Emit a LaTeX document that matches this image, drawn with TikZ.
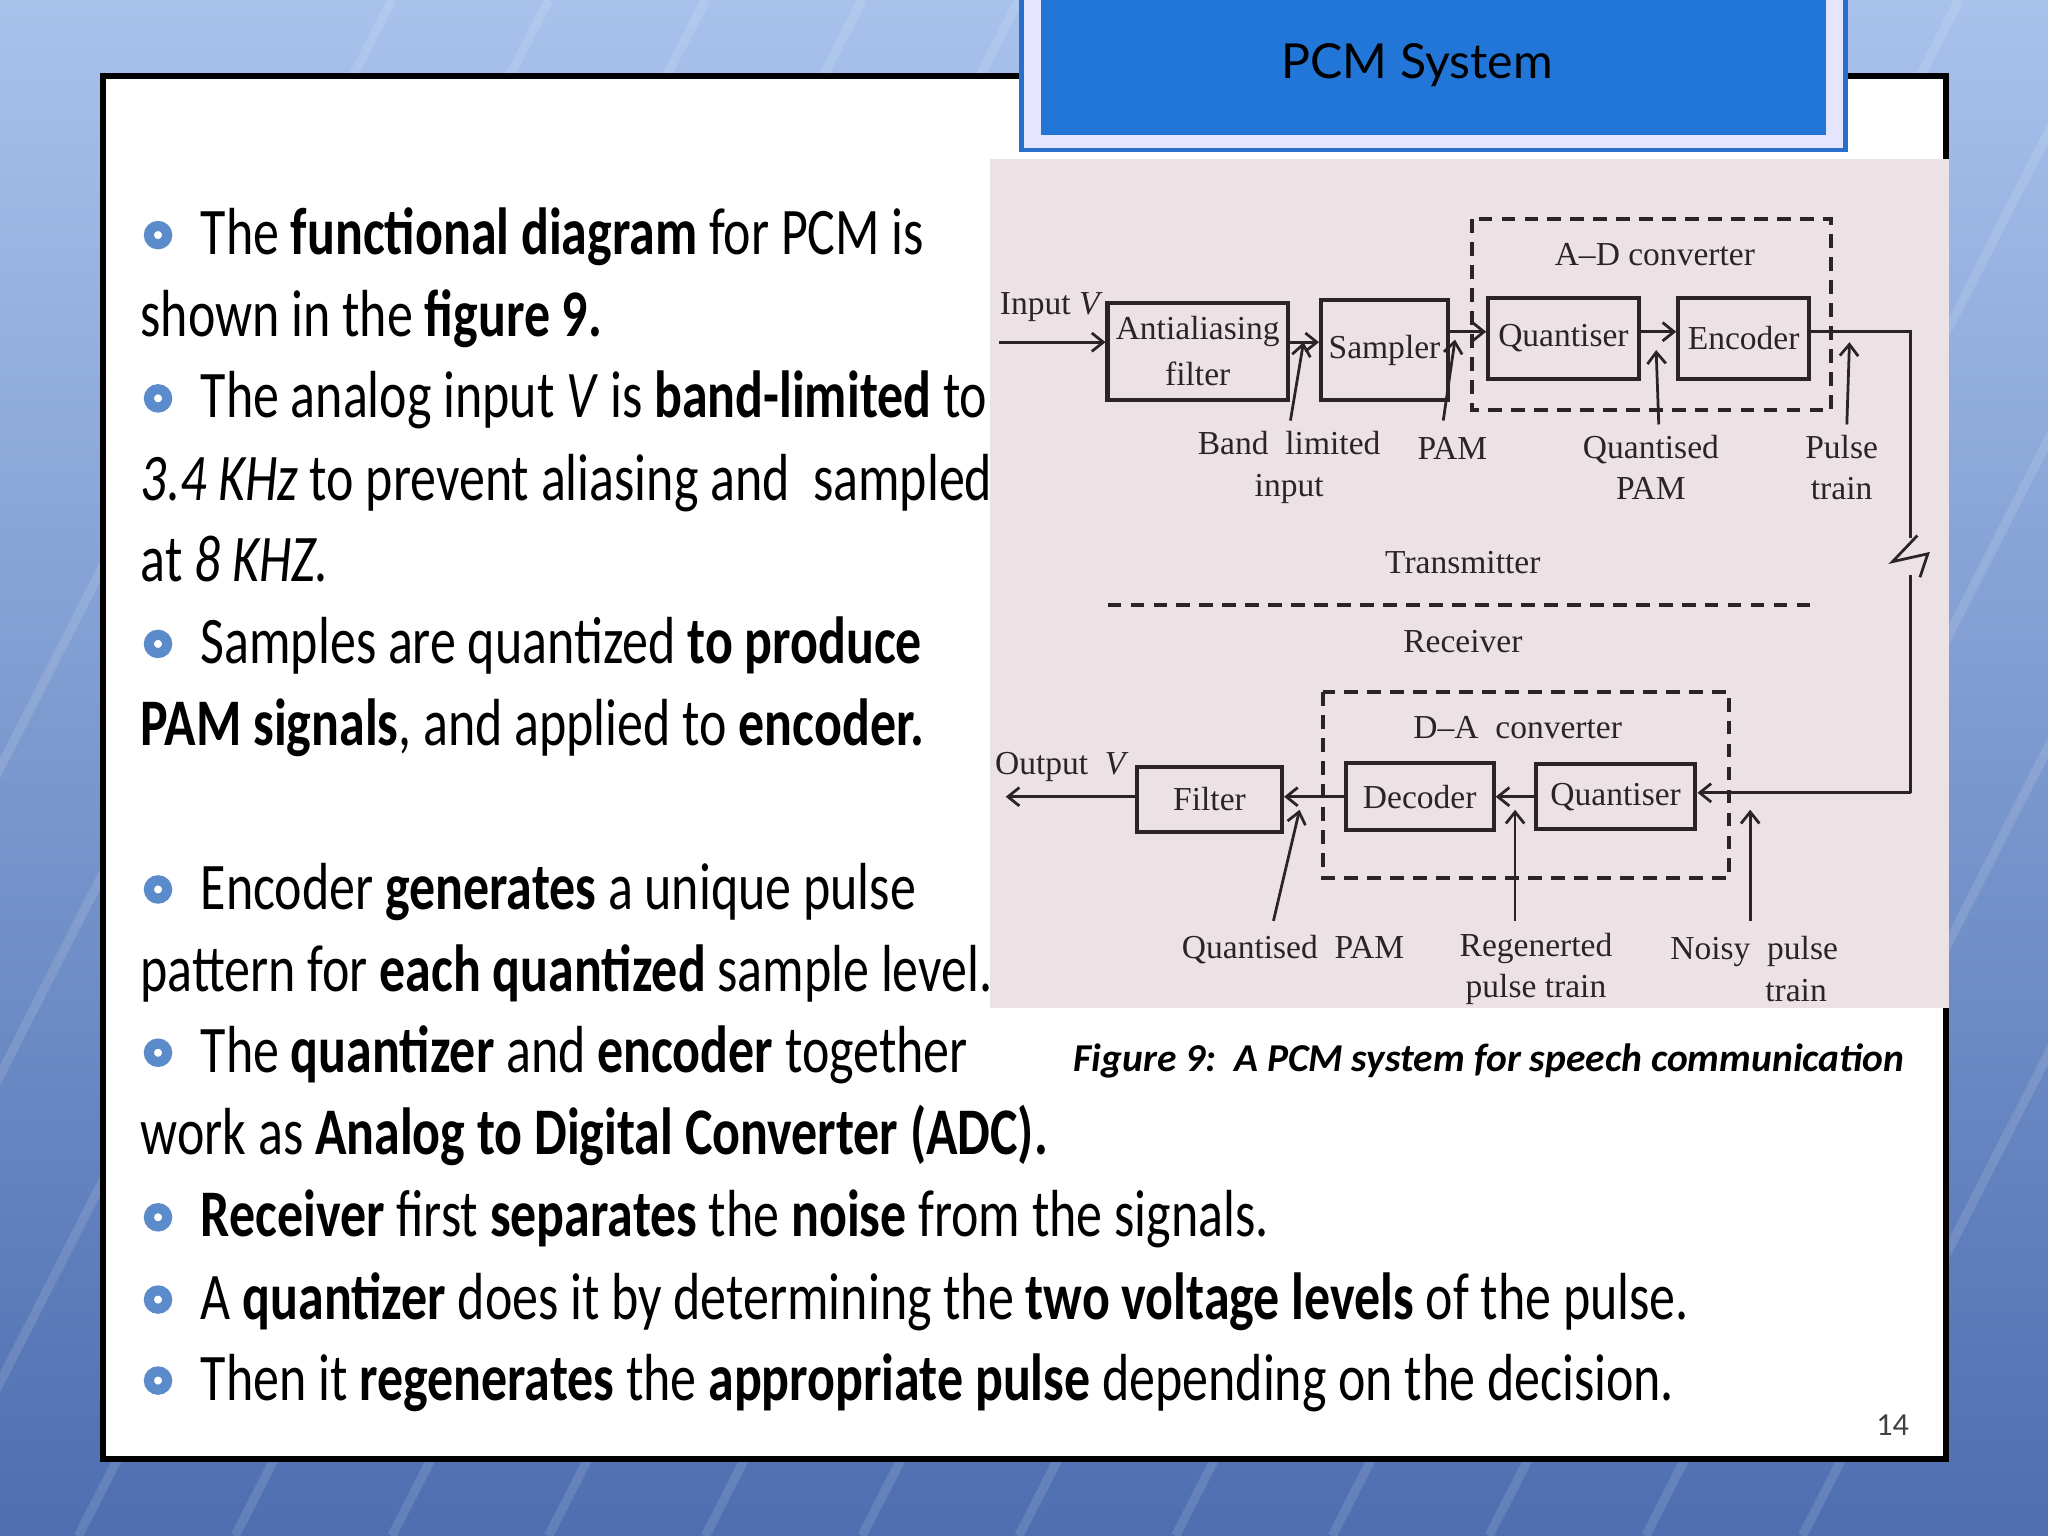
\documentclass[tikz,border=0pt]{standalone}
\usepackage{fontspec}
\usetikzlibrary{arrows.meta}
\setmainfont{Liberation Serif}
\newfontfamily\bodyf[FakeStretch=0.78]{Carlito}
\newfontfamily\capf{Carlito}
\newfontfamily\titlef{Lato}
\definecolor{bul}{HTML}{5B8BCB}
\definecolor{pinkbg}{HTML}{ECE2E5}
\definecolor{ink}{HTML}{2A2426}
\definecolor{bgtop}{HTML}{A8C2EC}
\definecolor{bgbot}{HTML}{4E6EB0}
\definecolor{tborder}{HTML}{286ECB}
\definecolor{tfill}{HTML}{2176D8}
\tikzset{
  blk/.style={draw=ink, line width=0.9pt, inner sep=0pt},
  dtxt/.style={font=\fontsize{7.3}{8}\selectfont, text=ink, inner sep=0pt},
  conn/.style={draw=ink, line width=0.6pt},
  arr/.style={conn, -{Straight Barb[length=2.5pt,width=4pt]}},
  dashline/.style={draw=ink, line width=0.9pt, dash pattern=on 3pt off 2pt},
  btxt/.style={font=\bodyf\fontsize{14.5}{16}\selectfont, anchor=base west, inner sep=0pt, text=black},
  bullet/.style={draw=bul, line width=2.2pt, circle, minimum size=0.14cm, inner sep=0pt}
}
\begin{document}
\begin{tikzpicture}[x=0.01cm,y=-0.01cm]
\useasboundingbox (0,0) rectangle (1568,1176);
\shade[top color=bgtop, bottom color=bgbot] (0,0) rectangle (1568,1176);
\foreach \i in {0,...,14}{\draw[white,opacity=0.12,line width=2pt] (\i*120-300,1176) -- (\i*120+300,0);}
\fill[white] (79,58) rectangle (1490,1117);
\draw[black,line width=1.2pt] (79,58) rectangle (1490,1117);
% title
\fill[white!90!blue] (782,-2) rectangle (1413,115);
\draw[tborder,line width=1pt] (782,-2) rectangle (1413,115);
\fill[tfill] (797,-2) rectangle (1398,103);
\node[font=\titlef\fontsize{10.5}{12}\selectfont, text=black] (title) at (1085,50) {PCM System};
% figure background
\fill[pinkbg] (758,122) rectangle (1492,772);
% blocks
\node[blk, minimum width=1.38cm, minimum height=0.74cm, dtxt, align=center] (aaf) at (917,269) {Antialiasing\\[2pt]filter};
\node[blk, minimum width=0.97cm, minimum height=0.76cm, dtxt] (samp) at (1060,268) {Sampler};
\node[blk, minimum width=1.15cm, minimum height=0.62cm, dtxt] (quant) at (1197,259) {Quantiser};
\node[blk, minimum width=1.00cm, minimum height=0.62cm, dtxt] (enc) at (1335,259) {Encoder};
\draw[dashline] (1127,168) rectangle (1402,314);
\node[dtxt] (adc) at (1267,195) {A–D converter};
\node[dtxt] (inl) at (805,235) {Input \textit{V}};
\coordinate (inp) at (765,262);
\draw[arr] (inp) -- (aaf.west |- inp);
\draw[arr] (aaf.east |- 0,262) -- (samp.west |- 0,262);
\draw[arr] (samp.east |- 0,254) -- (quant.west |- 0,254);
\draw[arr] (quant.east |- 0,254) -- (enc.west |- 0,254);
% labels transmitter
\node[dtxt, align=center] (bli) at (987,358) {Band\ \ limited\\[1pt]input};
\node[dtxt] (pam) at (1112,343) {PAM};
\node[dtxt, align=center] (qpam) at (1264,358) {Quantised\\[1pt]PAM};
\node[dtxt, align=center] (pt) at (1410,358) {Pulse\\[1pt]train};
\coordinate (a1) at (988,322); \coordinate (a1e) at (998,262);
\draw[arr] (a1) -- (a1e);
\coordinate (a2) at (1105,322); \coordinate (a2e) at (1114,260);
\draw[arr] (a2) -- (a2e);
\coordinate (a3) at (1270,325); \coordinate (a3e) at (1268,268);
\draw[arr] (a3) -- (a3e);
\coordinate (a4) at (1414,325); \coordinate (a4e) at (1416,262);
\draw[arr] (a4) -- (a4e);
% channel
\coordinate (c1) at (1463,254); \coordinate (c2) at (1463,412);
\coordinate (c3) at (1463,440); \coordinate (c4) at (1463,607);
\draw[conn] (enc.east |- c1) -- (c1) -- (c2);
\draw[conn] (1468,410) -- (1449,430) -- (1476,424) -- (1470,442);
\draw[conn] (c3) -- (c4);
\node[dtxt] (tx) at (1120,431) {Transmitter};
\draw[dashline] (848,463) -- (1390,463);
\node[dtxt] (rx) at (1120,491) {Receiver};
% receiver
\draw[dashline] (1013,530) rectangle (1324,672);
\node[dtxt] (dac) at (1162,557) {D–A\ \ converter};
\node[blk, minimum width=1.11cm, minimum height=0.50cm, dtxt] (filt) at (926,612) {Filter};
\node[blk, minimum width=1.13cm, minimum height=0.51cm, dtxt] (dec) at (1087,610) {Decoder};
\node[blk, minimum width=1.22cm, minimum height=0.50cm, dtxt] (rq) at (1237,610) {Quantiser};
\draw[arr] (c4) -- (rq.east |- c4);
\draw[arr] (rq.west) -- (dec.east);
\draw[arr] (dec.west) -- (filt.east |- dec.west);
\coordinate (outp) at (770,610);
\draw[arr] (filt.west |- outp) -- (outp);
\node[dtxt] (outl) at (813,587) {Output\ \ \textit{V}};
\node[dtxt] (rqp) at (990,727) {Quantised\ \ PAM};
\node[dtxt, align=center] (rpt) at (1176,742) {Regenerted\\[1pt]pulse train};
\node[dtxt, align=center] (npt) at (1343,742) {Noisy\ \ pulse\\[1pt]\ \ \ \ \ \ \ \ \ \ train};
\coordinate (b1) at (975,705); \coordinate (b1e) at (995,620);
\draw[arr] (b1) -- (b1e);
\coordinate (b2) at (1160,705); \coordinate (b2e) at (1160,620);
\draw[arr] (b2) -- (b2e);
\coordinate (b3) at (1340,705); \coordinate (b3e) at (1340,620);
\draw[arr] (b3) -- (b3e);
% caption
\node[font=\capf\bfseries\itshape\fontsize{8.6}{9}\selectfont, text=black, inner sep=0pt] (cap) at (1140,812) {Figure 9:\ \ A PCM system for speech communication};
% bullets text
\foreach \y in {180,305,493,681,806,932,995,1057} {\node[bullet] at (121,\y) {};}
\node[btxt] (l1) at (153,195) {The \textbf{functional diagram} for PCM is};
\node[btxt] (l2) at (107,258) {shown in the \textbf{figure 9.}};
\node[btxt] (l3) at (153,320) {The analog input \textit{V} is \textbf{band-limited} to};
\node[btxt] (l4) at (107,383) {\textit{3.4 KHz} to prevent aliasing and\ \ sampled};
\node[btxt] (l5) at (107,445) {at \textit{8 KHZ.}};
\node[btxt] (l6) at (153,508) {Samples are quantized \textbf{to produce}};
\node[btxt] (l7) at (107,571) {\textbf{PAM signals}, and applied to \textbf{encoder.}};
\node[btxt] (l8) at (153,696) {Encoder \textbf{generates} a unique pulse};
\node[btxt] (l9) at (107,759) {pattern for \textbf{each quantized} sample level.};
\node[btxt] (l10) at (153,821) {The \textbf{quantizer} and \textbf{encoder} together};
\node[btxt] (l11) at (107,884) {work as \textbf{Analog to Digital Converter (ADC).}};
\node[btxt] (l12) at (153,947) {\textbf{Receiver} first \textbf{separates} the \textbf{noise} from the signals.};
\node[btxt] (l13) at (153,1010) {A \textbf{quantizer} does it by determining the \textbf{two voltage levels} of the pulse.};
\node[btxt] (l14) at (153,1072) {Then it \textbf{regenerates} the \textbf{appropriate pulse} depending on the decision.};
\node[font=\capf\fontsize{7}{8}\selectfont, text=black!75] (pg) at (1449,1091) {14};
\end{tikzpicture}
\end{document}
